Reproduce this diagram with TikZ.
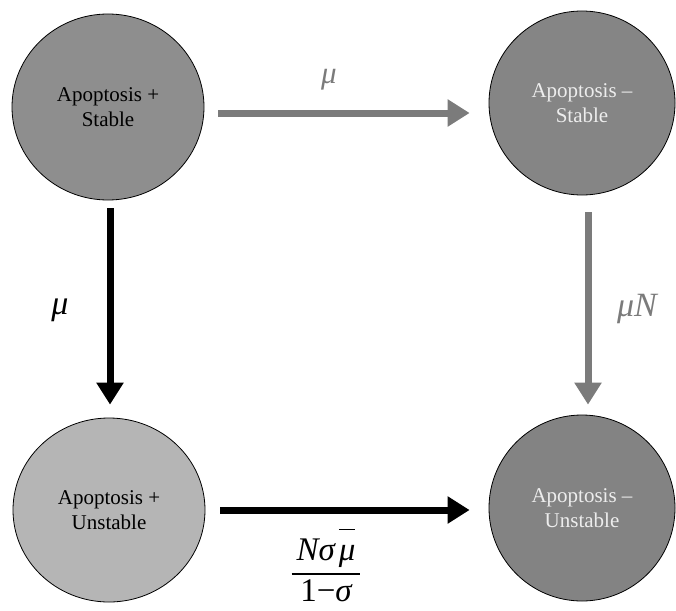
\documentclass[tikz,border=0pt]{standalone}
\usepackage{fontspec}
\setmainfont{Liberation Serif}
\usetikzlibrary{arrows.meta,shapes.geometric,calc}
\definecolor{fillTL}{HTML}{8E8E8E}
\definecolor{fillTR}{HTML}{858585}
\definecolor{fillBL}{HTML}{B5B5B5}
\definecolor{fillBR}{HTML}{838383}
\definecolor{lighttext}{HTML}{EDEDED}
\definecolor{arrowgray}{HTML}{7B7B7B}
\begin{document}
\begin{tikzpicture}[x=1pt,y=-1pt,
  state/.style={ellipse,draw=black,line width=0.8pt,inner sep=0pt,align=center,
    font=\fontsize{21}{25}\selectfont},
  grayarrow/.style={draw=arrowgray,line width=7pt,-{Triangle[length=22pt,width=26pt]}},
  blackarrow/.style={draw=black,line width=7pt,-{Triangle[length=22pt,width=26pt]}},
  lbl/.style={inner sep=0pt,font=\fontsize{34}{38}\selectfont\itshape}]
\useasboundingbox (0,0) rectangle (676,610);
\fill[white] (0,0) rectangle (676,610);
\node[state, fill=fillTL, minimum width=192pt, minimum height=186pt] (TL) at (108,107) {Apoptosis +\\Stable};
\node[state, fill=fillTR, text=lighttext, minimum width=186pt, minimum height=184pt] (TR) at (582,103) {Apoptosis –\\Stable};
\node[state, fill=fillBL, minimum width=192pt, minimum height=184pt] (BL) at (109,510) {Apoptosis +\\Unstable};
\node[state, fill=fillBR, text=lighttext, minimum width=186pt, minimum height=186pt] (BR) at (582,508) {Apoptosis –\\Unstable};
\draw[grayarrow] ([shift={(14pt,-6pt)}]TL.east) -- ([shift={(-19pt,-6pt)}]TL.east -| TR.west);
\draw[blackarrow] ([xshift=2pt,yshift=-8pt]TL.south) -- ([xshift=1pt,yshift=13pt]BL.north);
\draw[grayarrow] ([xshift=6pt,yshift=-17pt]TR.south) -- ([xshift=6pt,yshift=10pt]BR.north);
\draw[blackarrow] ([xshift=15pt]BL.east) -- ([xshift=-19pt]BL.east -| BR.west);
\node[lbl, font=\fontsize{31}{35}\selectfont\itshape, text=arrowgray] (m1) at (329,80) {μ};
\node[lbl] (m2) at (60,310) {μ};
\node[lbl, text=arrowgray] (m3) at (637,309) {μN};
\node[inner sep=0pt,anchor=base,font=\fontsize{33}{37}\selectfont] (frac) at (326,580)
  {$\displaystyle{\hspace{5pt}\mbox{\itshape N}\mbox{\itshape σ}\hspace{4pt}\overline{\rule{0pt}{0.9em}\mbox{\itshape μ}}\hspace{5pt}\above 1.8pt\mbox{1}\mbox{−}\mbox{\itshape σ}}$};
\end{tikzpicture}
\end{document}
